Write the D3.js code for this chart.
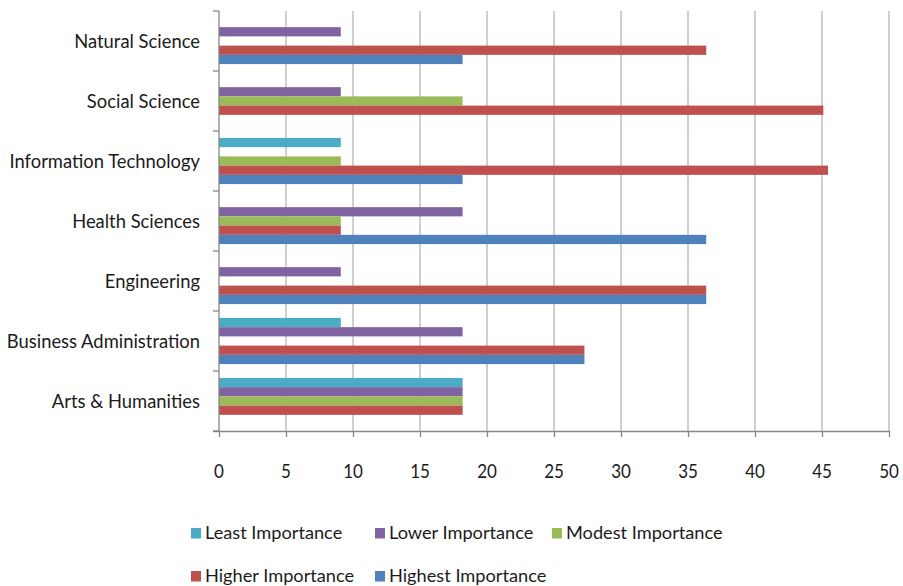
<!DOCTYPE html>
<html>
<head>
<meta charset="utf-8">
<script src="https://cdn.jsdelivr.net/npm/d3@7"></script>
<style>
  html, body { margin: 0; padding: 0; background: #fff; }
  svg { display: block; }
  text { font-family: Lato, "Open Sans", sans-serif; fill: #1b1b1b; }
</style>
</head>
<body>
<svg id="chart" width="903" height="586"></svg>
<script>
// Fields of study, listed top to bottom
const categories = [
  "Natural Science",
  "Social Science",
  "Information Technology",
  "Health Sciences",
  "Engineering",
  "Business Administration",
  "Arts & Humanities"
];

// Importance levels (drawn top to bottom inside each group)
const seriesNames = [
  "Least Importance",
  "Lower Importance",
  "Modest Importance",
  "Higher Importance",
  "Highest Importance"
];

// Percentages per field, in the same order as categories
const leastValues   = [0,     0,     9.09,  0,     0,     9.09,  18.18];
const lowerValues   = [9.09,  9.09,  0,     18.18, 9.09,  18.18, 18.18];
const modestValues  = [0,     18.18, 9.09,  9.09,  0,     0,     18.18];
const higherValues  = [36.36, 45.1,  45.45, 9.09,  36.36, 27.27, 18.18];
const highestValues = [18.18, 0,     18.18, 36.36, 36.36, 27.27, 0];

const xTickValues = [0, 5, 10, 15, 20, 25, 30, 35, 40, 45, 50];

const seriesColors = ["#4BACC6", "#8064A2", "#9BBB59", "#C0504D", "#4F81BD"];

const seriesValues = [leastValues, lowerValues, modestValues, higherValues, highestValues];

const svg = d3.select("#chart");

// plot area
const plot = { left: 219, right: 889, top: 11, bottom: 431 };

const x = d3.scaleLinear().domain([0, 50]).range([plot.left, plot.right]);
const y = d3.scaleBand().domain(categories).range([plot.top, plot.bottom]).padding(0);
// gap between clusters = 150% of a bar width
const ySeries = d3.scaleBand().domain(seriesNames).range([0, y.bandwidth()])
  .paddingInner(0).paddingOuter(0.75);

// horizontal squeeze for the narrow text face
const sxLabel = 0.92, sxTick = 0.92, sxLegend = 1.0;

function squeezedText(sel, tx, ty, sx, anchor, size, str) {
  const g = sel.append("g").attr("transform", `translate(${tx},${ty}) scale(${sx},1)`);
  g.append("text").attr("text-anchor", anchor).attr("font-size", size).text(str);
  return g;
}

// vertical gridlines
svg.append("g")
  .selectAll("line")
  .data(xTickValues.filter(d => d > 0))
  .join("line")
  .attr("x1", d => x(d)).attr("x2", d => x(d))
  .attr("y1", plot.top).attr("y2", plot.bottom)
  .attr("stroke", "#bfbfbf").attr("stroke-width", 1.5);

// bars
const rows = [];
categories.forEach((c, i) => {
  seriesNames.forEach((s, j) => {
    rows.push({ category: c, series: s, value: seriesValues[j][i], color: seriesColors[j] });
  });
});

svg.append("g")
  .selectAll("rect")
  .data(rows.filter(d => d.value > 0))
  .join("rect")
  .attr("x", x(0))
  .attr("y", d => y(d.category) + ySeries(d.series))
  .attr("width", d => x(d.value) - x(0))
  .attr("height", ySeries.bandwidth())
  .attr("fill", d => d.color);

// x axis
const xAxis = d3.axisBottom(x).tickValues(xTickValues).tickSize(6).tickFormat("");
const gx = svg.append("g").attr("transform", `translate(0,${plot.bottom})`).call(xAxis);
gx.select(".domain").attr("d", `M${plot.left - 6},0.5H${plot.right}`);
gx.selectAll("path, line").attr("stroke", "#868686").attr("stroke-width", 1.3);

xTickValues.forEach(v => {
  squeezedText(svg, x(v), 478, sxTick, "middle", 18.5, String(v));
});

// y axis with tick marks on band boundaries
const gy = svg.append("g");
gy.append("line")
  .attr("x1", plot.left).attr("x2", plot.left)
  .attr("y1", plot.top).attr("y2", plot.bottom)
  .attr("stroke", "#868686").attr("stroke-width", 1.3);
const boundaries = categories.map(c => y(c)).concat([plot.bottom]);
gy.selectAll("line.tk")
  .data(boundaries)
  .join("line").attr("class", "tk")
  .attr("x1", plot.left - 6).attr("x2", plot.left)
  .attr("y1", d => d).attr("y2", d => d)
  .attr("stroke", "#868686").attr("stroke-width", 1.3);

// category labels
categories.forEach(c => {
  squeezedText(svg, 200, y(c) + y.bandwidth() / 2 + 7.3, sxLabel, "end", 20, c);
});

// legend
const legendCols = [191, 375, 552];
const legendRows = [539, 582];
seriesNames.forEach((s, i) => {
  const col = i < 3 ? i : i - 3;
  const row = i < 3 ? 0 : 1;
  const lx = legendCols[col], ly = legendRows[row];
  svg.append("rect")
    .attr("x", lx).attr("y", ly - 11)
    .attr("width", 10).attr("height", 10.5)
    .attr("fill", seriesColors[i]);
  squeezedText(svg, lx + 14, ly, sxLegend, "start", 18.2, s);
});
</script>
</body>
</html>
